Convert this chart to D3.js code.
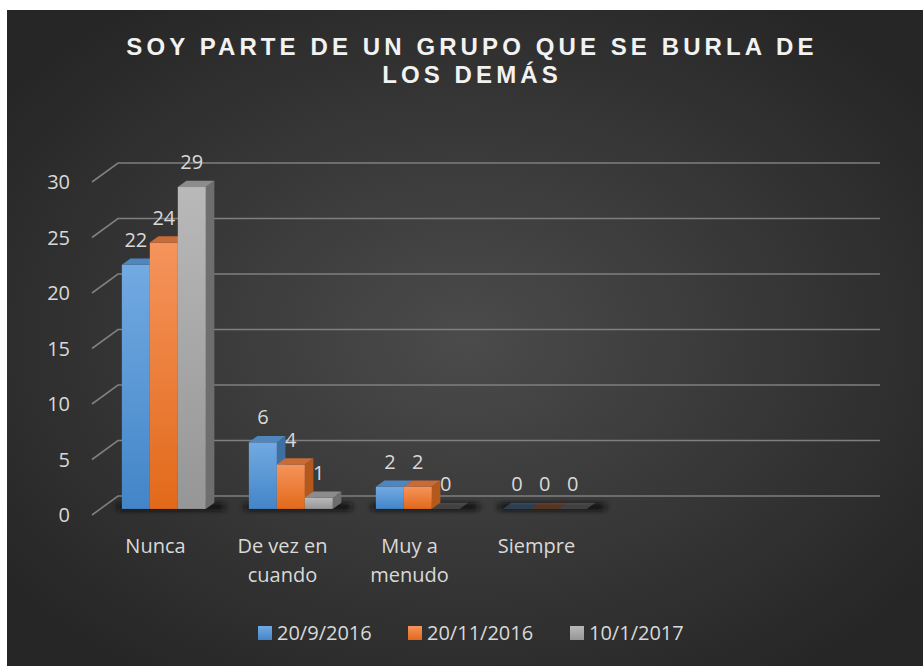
<!DOCTYPE html>
<html><head><meta charset="UTF-8">
<title>Soy parte de un grupo que se burla de los demás</title>
<script src="https://d3js.org/d3.v7.min.js"></script>
<style>
  body { margin: 0; background: #fff; }
  svg { display: block; }
</style>
</head>
<body>
<svg id="chart" width="923" height="666"></svg>
<script>
// datos
var categories = ["Nunca", "De vez en cuando", "Muy a menudo", "Siempre"];
var slots = 6; // el eje tiene 6 huecos, 2 vacíos
var seriesNames = ["20/9/2016", "20/11/2016", "10/1/2017"];
var serie1 = [22, 6, 2, 0];
var serie2 = [24, 4, 2, 0];
var serie3 = [29, 1, 0, 0];
var yTicks = [0, 5, 10, 15, 20, 25, 30];
var titleLines = ["SOY PARTE DE UN GRUPO QUE SE BURLA DE", "LOS DEMÁS"];

var values = [serie1, serie2, serie3];

// colores: frente (arriba, abajo), lado, tapa
var colors = [
  { top: "#72aae2", bottom: "#4385c8", side: "#3e6fa2", cap: "#4f86bd" },
  { top: "#f5945c", bottom: "#e2691a", side: "#b5581c", cap: "#c96b36" },
  { top: "#b9b9b9", bottom: "#969696", side: "#6e6e6e", cap: "#8c8c8c" }
];

var svg = d3.select("#chart");
var defs = svg.append("defs");

// fondo oscuro con degradado radial
var bg = defs.append("radialGradient").attr("id", "bg")
  .attr("cx", "50%").attr("cy", "50%").attr("r", "62%");
bg.append("stop").attr("offset", "0%").attr("stop-color", "#4b4b4b");
bg.append("stop").attr("offset", "100%").attr("stop-color", "#262626");

colors.forEach(function(c, i) {
  var g = defs.append("linearGradient").attr("id", "front" + i)
    .attr("x1", 0).attr("y1", 0).attr("x2", 0).attr("y2", 1);
  g.append("stop").attr("offset", "0%").attr("stop-color", c.top);
  g.append("stop").attr("offset", "100%").attr("stop-color", c.bottom);
});

var blur = defs.append("filter").attr("id", "shadow")
  .attr("x", "-20%").attr("y", "-200%").attr("width", "140%").attr("height", "500%");
blur.append("feGaussianBlur").attr("stdDeviation", "3 2");

svg.append("rect").attr("x", 7).attr("y", 10)
  .attr("width", 916).attr("height", 656).attr("fill", "url(#bg)");

// título
svg.append("g").selectAll("text").data(titleLines).enter().append("text")
  .attr("x", 472)
  .attr("y", function(d, i) { return 55 + i * 28; })
  .attr("text-anchor", "middle")
  .attr("fill", "#f2f2f2")
  .style("font-family", "'Liberation Sans', Arial, sans-serif")
  .style("font-weight", "bold")
  .style("font-size", "24px")
  .style("letter-spacing", "4.1px")
  .text(function(d) { return d; });

// escalas en el plano de la pared del fondo
var x0 = d3.scaleBand().domain(d3.range(slots)).range([118, 880]);
var x1 = d3.scaleBand().domain(d3.range(seriesNames.length))
  .range([0, x0.bandwidth()]).paddingOuter(0.77);
var y = d3.scaleLinear().domain([0, 30]).range([496, 163]);

// proyección 3D: profundidad 0 = pared del fondo, 1 = frente
var depthX = -26, depthY = 19;
function proj(xb, v, d) { return [xb + depthX * d, y(v) + depthY * d]; }
var dFront = 0.68, dBack = 0.35;

// líneas de cuadrícula
var grid = svg.append("g");
yTicks.forEach(function(t) {
  var a = proj(x0.range()[1], t, 0), b = proj(x0.range()[0], t, 0), c = proj(x0.range()[0], t, 1);
  grid.append("path")
    .attr("d", "M" + a + "L" + b + "L" + c)
    .attr("fill", "none").attr("stroke", "#7f7f7f").attr("stroke-width", 1.6);
});

// etiquetas del eje y
svg.append("g").selectAll("text").data(yTicks).enter().append("text")
  .attr("x", 70)
  .attr("y", function(d) { return proj(0, d, 1)[1]; })
  .attr("dy", "0.36em")
  .attr("text-anchor", "end")
  .attr("fill", "#d9d9d9")
  .style("font-family", "'Open Sans', sans-serif")
  .style("font-size", "20px")
  .text(function(d) { return d; });

// sombras bajo las barras
var shadows = svg.append("g");
categories.forEach(function(cat, i) {
  var xa = x0(i) + x1(0), xe = x0(i) + x1(seriesNames.length - 1) + x1.bandwidth();
  var p = proj(xa, 0, dFront), q = proj(xe, 0, dBack);
  shadows.append("rect")
    .attr("x", p[0] - 4).attr("y", p[1] - 6)
    .attr("width", q[0] - p[0] + 14).attr("height", 8)
    .attr("fill", "#111").attr("opacity", 0.8)
    .attr("filter", "url(#shadow)");
});

// barras 3D
var bars = svg.append("g");
categories.forEach(function(cat, i) {
  seriesNames.forEach(function(s, j) {
    var v = values[j][i];
    var xa = x0(i) + x1(j), xe = xa + x1.bandwidth();
    var c = colors[j];
    var f0 = proj(xa, 0, dFront), f1 = proj(xe, v, dFront);
    var capPts = [proj(xa, v, dFront), proj(xe, v, dFront), proj(xe, v, dBack), proj(xa, v, dBack)];
    if (v > 0) {
      bars.append("polygon")
        .attr("points", [proj(xe, 0, dFront), proj(xe, v, dFront), proj(xe, v, dBack), proj(xe, 0, dBack)].join(" "))
        .attr("fill", c.side);
      bars.append("rect")
        .attr("x", f0[0]).attr("y", f1[1])
        .attr("width", f1[0] - f0[0]).attr("height", f0[1] - f1[1])
        .attr("fill", "url(#front" + j + ")");
      bars.append("polygon").attr("points", capPts.join(" ")).attr("fill", c.cap);
    } else {
      bars.append("polygon").attr("points", capPts.join(" "))
        .attr("fill", c.cap).attr("opacity", 0.35);
    }
  });
});

// etiquetas de valores
var labels = svg.append("g");
categories.forEach(function(cat, i) {
  seriesNames.forEach(function(s, j) {
    var v = values[j][i];
    var xc = x0(i) + x1(j) + x1.bandwidth() / 2;
    var p = proj(xc, v, dFront);
    labels.append("text")
      .attr("x", p[0]).attr("y", p[1] - 18)
      .attr("text-anchor", "middle")
      .attr("fill", "#d9d9d9")
      .style("font-family", "'Open Sans', sans-serif")
      .style("font-size", "20px")
      .text(v);
  });
});

// etiquetas de categoría con ajuste de línea
function wrapWords(text, maxW, measure) {
  var words = text.split(" "), lines = [], cur = "";
  words.forEach(function(w) {
    var t = cur ? cur + " " + w : w;
    if (cur && measure(t) > maxW) { lines.push(cur); cur = w; } else cur = t;
  });
  lines.push(cur);
  return lines;
}
var probe = svg.append("text").style("font-family", "'Open Sans', sans-serif").style("font-size", "20px");
function measure(t) { probe.text(t); return probe.node().getComputedTextLength(); }

var catG = svg.append("g");
categories.forEach(function(cat, i) {
  var p = proj(x0(i) + x0.bandwidth() / 2, 0, 1);
  var lines = wrapWords(cat, 100, measure);
  var t = catG.append("text")
    .attr("text-anchor", "middle")
    .attr("fill", "#d9d9d9")
    .style("font-family", "'Open Sans', sans-serif")
    .style("font-size", "20px");
  lines.forEach(function(l, k) {
    t.append("tspan").attr("x", p[0]).attr("y", 553 + k * 29).text(l);
  });
});
probe.remove();

// leyenda
var legendX = [258, 408, 570];
var legend = svg.append("g");
seriesNames.forEach(function(s, j) {
  legend.append("rect")
    .attr("x", legendX[j]).attr("y", 626).attr("width", 14).attr("height", 14)
    .attr("fill", "url(#front" + j + ")");
  legend.append("text")
    .attr("x", legendX[j] + 19).attr("y", 640)
    .attr("fill", "#d9d9d9")
    .style("font-family", "'Open Sans', sans-serif")
    .style("font-size", "20px")
    .text(s);
});
</script>
</body></html>
